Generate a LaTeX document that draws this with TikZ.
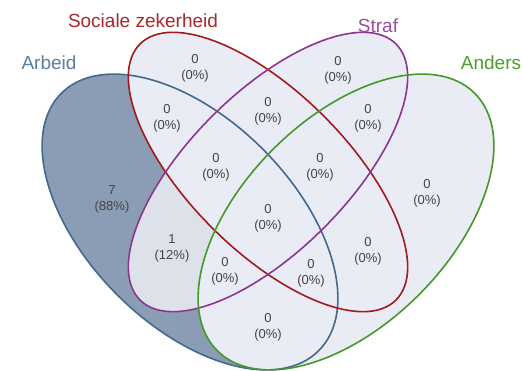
\documentclass[tikz,border=0pt]{standalone}
\usepackage{fontspec}
\setmainfont{Liberation Sans}
\definecolor{cA}{HTML}{44698F}
\definecolor{cS}{HTML}{A31A1E}
\definecolor{cP}{HTML}{8E3591}
\definecolor{cG}{HTML}{44992A}
\definecolor{lA}{HTML}{5A7FA5}
\definecolor{lS}{HTML}{A8282C}
\definecolor{lP}{HTML}{9A4CA0}
\definecolor{lG}{HTML}{4E9E2E}
\definecolor{fLight}{HTML}{E9ECF5}
\definecolor{fMid}{HTML}{DCE1EA}
\definecolor{fDark}{HTML}{8A9DB5}
\definecolor{txt}{HTML}{444444}
\newcommand\EllA[1]{\path[#1, rotate around={-45:(190pt,149pt)}] (190pt,149pt) ellipse [x radius=182pt, y radius=103pt];}
\newcommand\EllS[1]{\path[#1, rotate around={-45:(268pt,199pt)}] (268pt,199pt) ellipse [x radius=181pt, y radius=79pt];}
\newcommand\EllP[1]{\path[#1, rotate around={45:(268pt,199pt)}] (268pt,199pt) ellipse [x radius=181pt, y radius=79pt];}
\newcommand\EllG[1]{\path[#1, rotate around={45:(346pt,149pt)}] (346pt,149pt) ellipse [x radius=182pt, y radius=103pt];}
\tikzset{
  cnt/.style={font=\fontsize{13}{16}\selectfont, align=center, text=txt, inner sep=0pt},
  lab/.style={font=\fontsize{19}{22}\selectfont, inner sep=0pt},
  ring/.style={line width=1.6pt}
}
\begin{document}
\begin{tikzpicture}
\useasboundingbox[fill=white] (0,0) rectangle (522pt,371pt);
% base fills
\EllA{fill=fLight}
\EllS{fill=fLight}
\EllP{fill=fLight}
\EllG{fill=fLight}
% region shading
\begin{scope}
  \EllA{clip}
  \EllA{fill=fDark}
  \EllP{fill=fMid}
  \EllS{fill=fLight}
  \EllG{fill=fLight}
\end{scope}
% outlines
\EllA{draw=cA, ring}
\EllS{draw=cS, ring}
\EllP{draw=cP, ring}
\EllG{draw=cG, ring}
% set labels
\node[lab, text=lA] (lArbeid) at (49pt,308pt) {Arbeid};
\node[lab, text=lS] (lSociale) at (143pt,350pt) {Sociale zekerheid};
\node[lab, text=lP] (lStraf) at (378pt,345pt) {Straf};
\node[lab, text=lG] (lAnders) at (491pt,308pt) {Anders};
% counts
\node[cnt] (n1) at (195pt,303pt) {0\\(0\%)};
\node[cnt] (n2) at (338pt,301pt) {0\\(0\%)};
\node[cnt] (n3) at (167pt,253pt) {0\\(0\%)};
\node[cnt] (n4) at (268pt,260pt) {0\\(0\%)};
\node[cnt] (n5) at (368pt,253pt) {0\\(0\%)};
\node[cnt] (n6) at (216pt,204pt) {0\\(0\%)};
\node[cnt] (n7) at (320pt,204pt) {0\\(0\%)};
\node[cnt] (n8) at (112pt,172pt) {7\\(88\%)};
\node[cnt] (n9) at (268pt,153pt) {0\\(0\%)};
\node[cnt] (n10) at (427pt,178pt) {0\\(0\%)};
\node[cnt] (n11) at (172pt,123pt) {1\\(12\%)};
\node[cnt] (n12) at (225pt,100pt) {0\\(0\%)};
\node[cnt] (n13) at (311pt,98pt) {0\\(0\%)};
\node[cnt] (n14) at (368pt,120pt) {0\\(0\%)};
\node[cnt] (n15) at (268pt,44pt) {0\\(0\%)};
\end{tikzpicture}
\end{document}
